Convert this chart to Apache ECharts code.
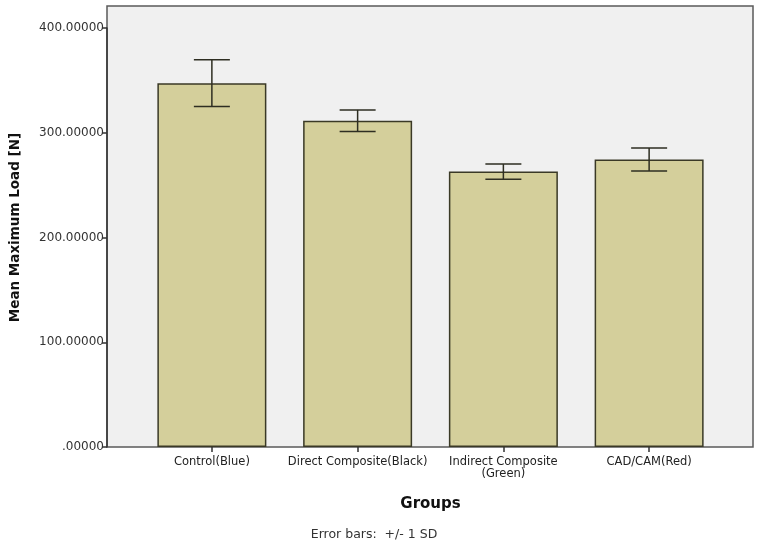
<!DOCTYPE html>
<html>
<head>
<meta charset="utf-8">
<script src="https://cdn.jsdelivr.net/npm/echarts@6/dist/echarts.min.js"></script>
<style>html,body{margin:0;padding:0;background:#fff}#c{width:760px;height:546px}</style>
</head>
<body>
<div id="c"></div>
<script>
const categories = ['Control(Blue)', 'Direct Composite(Black)', 'Indirect Composite\n(Green)', 'CAD/CAM(Red)'];
const means = [347.3, 311.5, 262.9, 274.5];
const sds = [22.3, 10.3, 7.2, 11.0];
const yTicks = [0, 100, 200, 300, 400];

const chart = echarts.init(document.getElementById('c'));
const errData = means.map((m, i) => [i, m - sds[i], m + sds[i]]);

chart.setOption({
  animation: false,
  backgroundColor: '#ffffff',
  textStyle: { fontFamily: 'DejaVu Sans' },
  grid: [
    { left: 107, right: 7, top: 6, bottom: 99, show: true, backgroundColor: '#f0f0f0', borderColor: '#5a5a5a', borderWidth: 1.5 },
    { left: 139, right: 38, top: 28, bottom: 99 }
  ],
  xAxis: [
    { gridIndex: 0, type: 'value', show: false, min: 0, max: 1 },
    {
      gridIndex: 1, type: 'category', data: categories,
      axisLine: { show: false },
      axisTick: { show: true, alignWithLabel: true, length: 5, lineStyle: { color: '#333', width: 1.5 } },
      axisLabel: { color: '#222', fontSize: 11.5, margin: 9, fontFamily: 'DejaVu Sans', lineHeight: 12, interval: 0 },
      name: 'Groups', nameLocation: 'middle', nameGap: 50,
      nameTextStyle: { fontSize: 15, fontWeight: 'bold', color: '#111', fontFamily: 'DejaVu Sans' }
    }
  ],
  yAxis: [
    { gridIndex: 0, type: 'value', show: false, min: 0, max: 1 },
    {
      gridIndex: 1, type: 'value', min: yTicks[0], max: yTicks[yTicks.length - 1], interval: 100,
      offset: 32,
      axisLine: { show: true, lineStyle: { color: '#333', width: 1.5 } },
      axisTick: { show: true, length: 5, lineStyle: { color: '#333', width: 1.5 } },
      splitLine: { show: false },
      axisLabel: {
        color: '#333', fontSize: 12, margin: 3, fontFamily: 'DejaVu Sans',
        formatter: v => v === 0 ? '.00000' : v.toFixed(5)
      },
      name: 'Mean Maximum Load [N]', nameLocation: 'middle', nameGap: 85,
      nameTextStyle: { fontSize: 13.5, fontWeight: 'bold', color: '#111', fontFamily: 'DejaVu Sans', padding: [0, 0, 0, 20] }
    }
  ],
  series: [
    {
      type: 'bar', xAxisIndex: 1, yAxisIndex: 1, data: means, barWidth: 109,
      itemStyle: { color: '#d4cf9b', borderColor: '#3a3926', borderWidth: 1.5 }
    },
    {
      type: 'custom', xAxisIndex: 1, yAxisIndex: 1, data: errData, z: 5,
      renderItem: function (params, api) {
        const x = api.value(0);
        const lo = api.coord([x, api.value(1)]);
        const hi = api.coord([x, api.value(2)]);
        const hw = 18;
        const style = { stroke: '#2e2e22', lineWidth: 1.5 };
        return {
          type: 'group',
          children: [
            { type: 'line', shape: { x1: hi[0], y1: hi[1], x2: lo[0], y2: lo[1] }, style },
            { type: 'line', shape: { x1: hi[0] - hw, y1: hi[1], x2: hi[0] + hw, y2: hi[1] }, style },
            { type: 'line', shape: { x1: lo[0] - hw, y1: lo[1], x2: lo[0] + hw, y2: lo[1] }, style }
          ]
        };
      }
    }
  ],
  graphic: [
    { type: 'text', x: 374, y: 535, style: { text: 'Error bars:  +/- 1 SD', fontSize: 12.5, fontFamily: 'DejaVu Sans', fill: '#333', textAlign: 'center', textVerticalAlign: 'middle' } }
  ]
});
</script>
</body>
</html>
